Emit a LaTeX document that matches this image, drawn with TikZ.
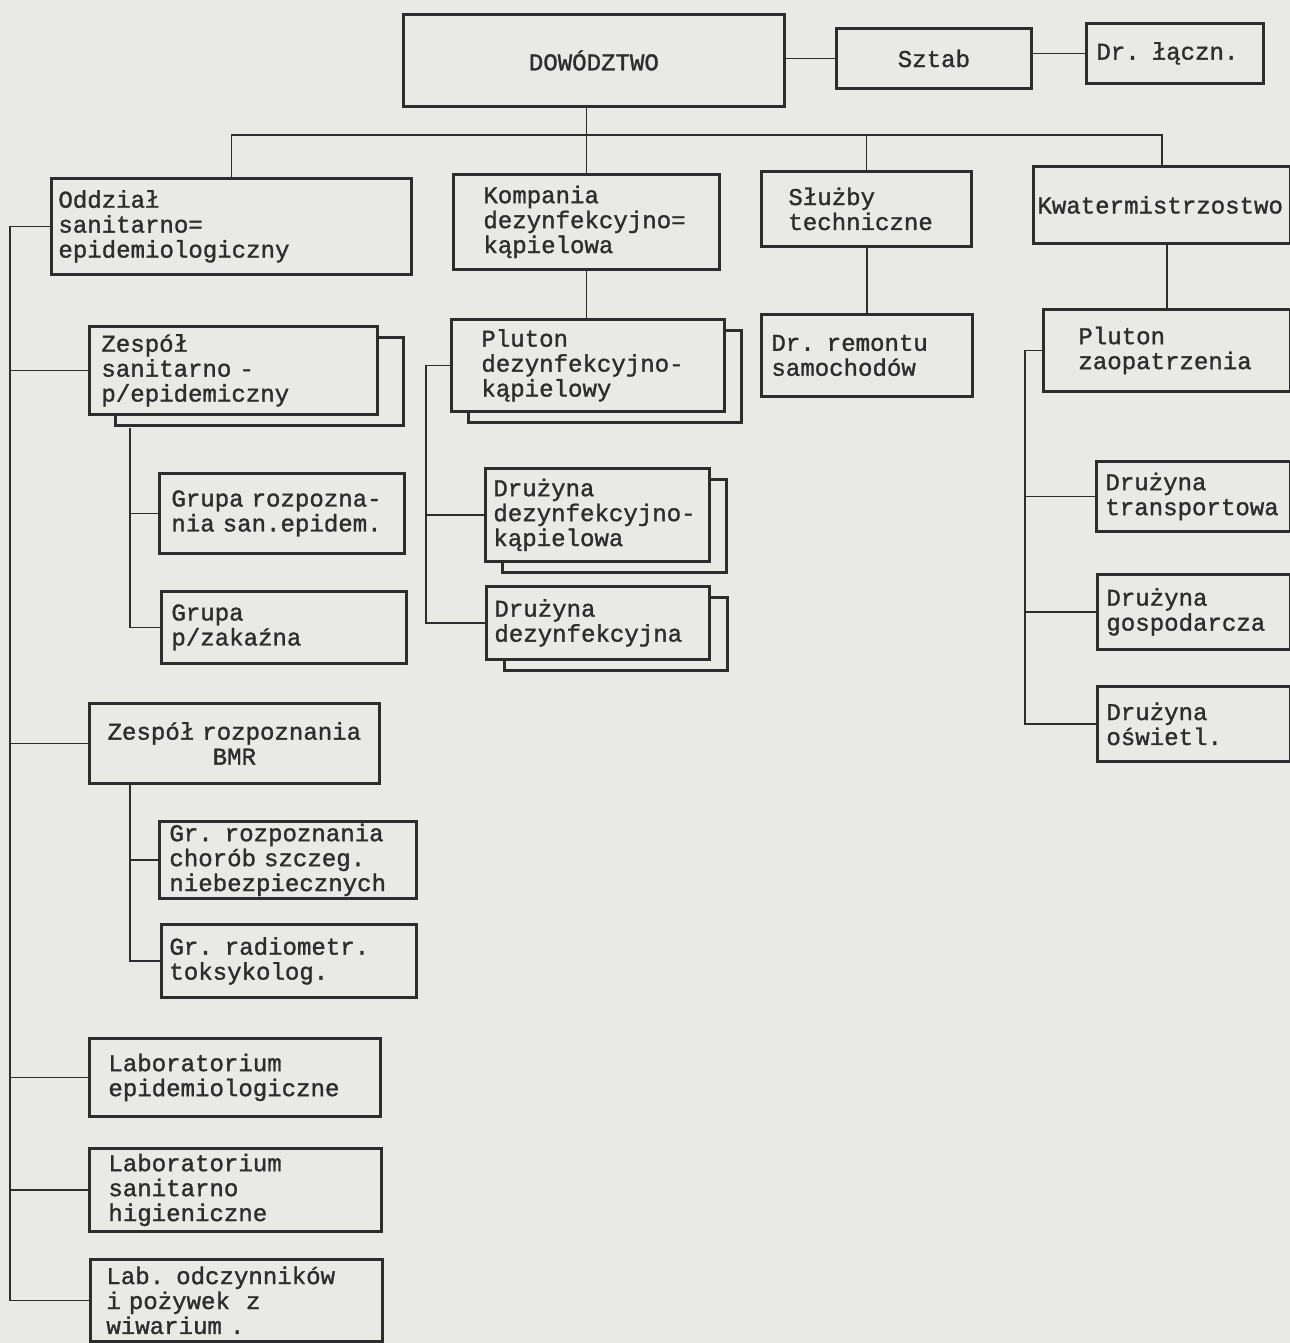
\documentclass[tikz,border=0pt]{standalone}
\usepackage{fontspec}
\setmonofont{Liberation Mono}[BoldFont={Liberation Mono},BoldFeatures={FakeBold=1.3}]
\usepackage{tikz}
\usetikzlibrary{shadows}
\definecolor{paper}{RGB}{233,233,229}
\definecolor{ink}{RGB}{45,45,45}
\newcommand{\typed}{\ttfamily\bfseries\fontsize{13.7}{14.2}\selectfont}
\tikzset{
  unit/.style={draw=ink,line width=1.6pt,fill=paper,rectangle,anchor=north west,
    inner xsep=0.16cm,inner ysep=0pt,align=left,font=\typed,text=ink},
  twin/.style={copy shadow={shadow xshift=#1,shadow yshift=-0.22cm,fill=paper,draw=ink,line width=1.6pt}},
  link/.style={draw=ink,line width=0.9pt}
}
\begin{document}
\begin{tikzpicture}[x=0.02cm,y=-0.02cm]

\fill[paper] (0,0) rectangle (1290,1343);
\useasboundingbox (0,0) rectangle (1290,1343);

% top row
\node[unit,align=center,text width=7.30cm,minimum height=1.84cm] (dow) at (402,13) {DOWÓDZTWO};
\node[unit,align=center,text width=3.58cm,minimum height=1.2cm] (sztab) at (835,27) {Sztab};
\node[unit,inner xsep=0.2cm,text width=3.14cm,minimum height=1.2cm] (lacz) at (1085,22) {Dr. łączn.};

% second row
\node[unit,inner xsep=0.14cm,text width=6.92cm,minimum height=1.92cm] (odd) at (50,177)
  {Oddział\\sanitarno=\\epidemiologiczny};
\node[unit,inner xsep=0.6cm,text width=4.12cm,minimum height=1.9cm] (komp) at (452,173)
  {Kompania\\dezynfekcyjno=\\kąpielowa};
\node[unit,inner xsep=0.54cm,text width=3.12cm,minimum height=1.5cm] (sluz) at (760,170)
  {Służby\\techniczne};
\node[unit,inner xsep=0.08cm,text width=4.98cm,minimum height=1.54cm] (kwat) at (1032,165)
  {Kwatermistrzostwo};

% oddzial
\node[unit,twin=0.52cm,inner xsep=0.24cm,text width=5.28cm,minimum height=1.76cm] (zsan) at (88,325)
  {Zespół\\sanitarno -\\p/epidemiczny};
\node[unit,inner xsep=0.24cm,text width=4.42cm,minimum height=1.6cm] (grz) at (158,472)
  {Grupa rozpozna-\\nia san.epidem.};
\node[unit,inner xsep=0.2cm,text width=4.5cm,minimum height=1.44cm] (gzak) at (160,590)
  {Grupa\\p/zakaźna};
\node[unit,align=center,text width=5.48cm,minimum height=1.6cm] (zbmr) at (88,702)
  {Zespół rozpoznania\\BMR};
\node[unit,inner xsep=0.2cm,text width=4.74cm,minimum height=1.54cm] (gchor) at (158,820)
  {Gr. rozpoznania\\chorób szczeg.\\niebezpiecznych};
\node[unit,text width=4.78cm,minimum height=1.46cm] (grad) at (160,923)
  {Gr. radiometr.\\toksykolog.};
\node[unit,inner xsep=0.38cm,text width=5.06cm,minimum height=1.56cm] (labe) at (88,1037)
  {Laboratorium\\epidemiologiczne};
\node[unit,inner xsep=0.38cm,text width=5.08cm,minimum height=1.66cm] (labs) at (88,1147)
  {Laboratorium\\sanitarno\\higieniczne};
\node[unit,inner xsep=0.32cm,text width=5.2cm,minimum height=1.64cm] (labo) at (89,1258)
  {Lab. odczynników\\i pożywek~~z\\wiwarium .};

% kompania
\node[unit,twin=0.34cm,inner xsep=0.6cm,text width=4.26cm,minimum height=1.84cm] (plut) at (450,318)
  {Pluton\\dezynfekcyjno-\\kąpielowy};
\node[unit,twin=0.34cm,text width=4.16cm,minimum height=1.86cm] (dzk) at (484,467)
  {Drużyna\\dezynfekcyjno-\\kąpielowa};
\node[unit,twin=0.36cm,text width=4.14cm,minimum height=1.46cm] (dzd) at (485,585)
  {Drużyna\\dezynfekcyjna};

% sluzby, kwatermistrzostwo
\node[unit,inner xsep=0.2cm,text width=3.82cm,minimum height=1.64cm] (drem) at (760,313)
  {Dr. remontu\\samochodów};
\node[unit,inner xsep=0.7cm,text width=3.54cm,minimum height=1.64cm] (pzao) at (1042,308)
  {Pluton\\zaopatrzenia};
\node[unit,inner xsep=0.18cm,text width=3.52cm,minimum height=1.4cm] (dtr) at (1095,460)
  {Drużyna\\transportowa};
\node[unit,inner xsep=0.18cm,text width=3.5cm,minimum height=1.5cm] (dgo) at (1096,573)
  {Drużyna\\gospodarcza};
\node[unit,inner xsep=0.18cm,text width=3.5cm,minimum height=1.5cm] (dosw) at (1096,685)
  {Drużyna\\oświetl.};

\coordinate (bus) at (585,135);
\coordinate (lbus) at (10,0);
\coordinate (zbus) at (130,0);
\coordinate (pbus) at (426,0);
\coordinate (kbus) at (1025,0);
\coordinate (zfoot) at ([yshift=-0.24cm]zsan.south);

\draw[link] (dow.east |- sztab.west) -- (sztab.west);
\draw[link] (sztab.east |- lacz.west) -- (lacz.west);
\draw[link] (dow.south -| komp.north) -- (komp.north);
\draw[link] (odd.north) -- (odd.north |- bus) -- (kwat.north |- bus) -- (kwat.north);
\draw[link] (sluz.north |- bus) -- (sluz.north);

\draw[link] (odd.west) -- (odd.west -| lbus) -- (lbus |- labo.west) -- (labo.west);
\foreach \n in {zsan,zbmr,labe,labs}
  \draw[link] (lbus |- \n.west) -- (\n.west);
\draw[link] (zfoot -| zbus) -- (zbus |- gzak.west) -- (gzak.west);
\draw[link] (zbus |- grz.west) -- (grz.west);
\draw[link] (zbmr.south -| zbus) -- (zbus |- grad.west) -- (grad.west);
\draw[link] (zbus |- gchor.west) -- (gchor.west);

\draw[link] (komp.south) -- (komp.south |- plut.north);
\draw[link] (plut.west) -- (plut.west -| pbus) -- (pbus |- dzd.west) -- (dzd.west);
\draw[link] (pbus |- dzk.west) -- (dzk.west);

\draw[link] (drem.north |- sluz.south) -- (drem.north);
\draw[link] (pzao.north |- kwat.south) -- (pzao.north);
\draw[link] (pzao.west) -- (pzao.west -| kbus) -- (kbus |- dosw.west) -- (dosw.west);
\foreach \n in {dtr,dgo}
  \draw[link] (kbus |- \n.west) -- (\n.west);

\end{tikzpicture}
\end{document}
